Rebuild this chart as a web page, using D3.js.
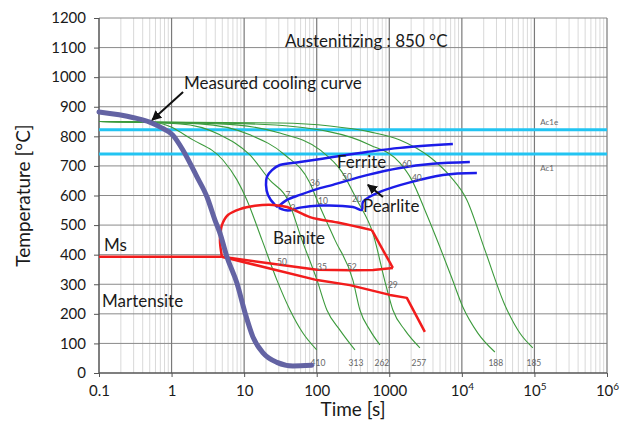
<!DOCTYPE html>
<html>
<head>
<meta charset="utf-8">
<script src="https://cdn.jsdelivr.net/npm/d3@7"></script>
<style>
    body { margin: 0; background: #fff; }
    text { font-family: Lato, "Open Sans", sans-serif; fill: #1a1a1a; }
</style>
</head>
<body>
<script>
(function() {

    // time [s], temperature [°C]
    var coolingCurve = [[0.1, 882], [0.3, 863], [0.5, 848], [0.69, 832], [1.04, 804], [1.43, 754], [2.24, 663], [3.08, 595], [3.96, 517], [4.64, 473], [5.8, 392], [7.95, 304], [10.3, 203], [13.2, 122], [18.2, 68], [28.3, 36], [47, 24], [85, 26]];

    var curve410 = [[0.1, 850], [0.63, 845], [1.97, 788], [5.1, 720], [8.0, 652], [10.9, 585], [17.6, 450], [28.3, 314], [42.8, 213], [64.5, 135], [100, 78]];
    var curve313 = [[0.1, 850], [1.31, 842], [4.64, 805], [12.0, 737], [22.6, 652], [40.1, 585], [62.5, 450], [101, 314], [138, 213], [209, 145], [336, 78]];
    var curve262 = [[0.1, 850], [2.46, 842], [12.0, 805], [36.5, 737], [80.6, 642], [101, 585], [178, 450], [315, 314], [394, 213], [541, 145], [743, 95]];
    var curve257 = [[0.1, 850], [4.64, 842], [31.1, 811], [111, 754], [222, 680], [358, 585], [594, 473], [898, 297], [1121, 213], [1641, 145], [2642, 85]];
    var curve188 = [[0.1, 850], [12.0, 842], [152, 815], [541, 771], [1400, 710], [2046, 652], [3090, 551], [4977, 426], [7278, 321], [10320, 223], [16600, 135], [28500, 71]];
    var curve185 = [[0.1, 850], [31.1, 845], [152, 835], [541, 815], [1400, 788], [3622, 730], [6839, 666], [11720, 585], [20750, 416], [39100, 230], [62900, 135], [95000, 85]];

    var greenCurves = [curve410, curve313, curve262, curve257, curve188, curve185];
    var hardness = ["410", "313", "262", "257", "188", "185"];
    var hardnessTimes = [104, 347, 791, 2560, 29400, 98200];

    var ferriteStart = [[7516, 774], [1400, 761], [491, 747], [167, 730], [58.7, 713], [31.1, 703], [24.2, 686], [20.6, 663], [20.0, 636], [21.3, 602], [26.6, 568], [29.2, 561]];
    var ferriteEnd = [[29.2, 561], [38.9, 585], [58.7, 602], [111, 625], [167, 636], [491, 669], [1400, 693], [3990, 707], [12882, 713]];
    var pearliteStart = [[30, 558], [40, 549], [58.7, 559], [111, 566], [315, 561], [420, 551], [433, 578], [743, 612], [5470, 669], [16100, 676]];

    var msLine = [[0.1, 393], [4.94, 393]];
    var bainiteStart = [[4.94, 393], [4.64, 450], [4.94, 500], [5.98, 534], [8.75, 554], [14.1, 565], [24.9, 568], [38.9, 561], [80.6, 527], [209, 507], [576, 483]];
    var bainiteNose = [[576, 483], [1121, 355]];
    var bainiteEnd = [[4.94, 393], [20.6, 372], [101, 349], [300, 347], [600, 348], [1121, 355]];
    var bainiteLower = [[4.94, 393], [101, 314], [286, 297], [1019, 264], [1746, 254], [3090, 139]];

    var ac1e = 822, ac1 = 740;

    // percent labels [text, t, T]
    var percentLabels = [["7", 40.1, 602], ["2", 47, 558], ["36", 94.4, 642], ["10", 122, 581], ["50", 261, 664], ["20", 358, 588], ["60", 1746, 708], ["40", 2400, 659], ["50", 33.2, 375], ["35", 118, 358], ["52", 305, 358], ["29", 1121, 297]];

    // region labels [text, t, T] (left, baseline)
    var regionLabels = [["Ferrite", 190, 693], ["Pearlite", 433, 544], ["Bainite", 24.9, 436], ["Ms", 0.117, 412], ["Martensite", 0.11, 223], ["Measured cooling curve", 1.48, 960], ["Austenitizing : 850 °C", 36.5, 1102]];
    var arrows = [[[1.44, 950], [0.54, 855]], [[817, 595], [507, 636]]];

    var xTickValues = [0.1, 1, 10, 100, 1000, 1e4, 1e5, 1e6];
    var xTickLabels = ["0.1", "1", "10", "100", "1000", "10^4", "10^5", "10^6"];
    var yTickValues = d3.range(0, 1201, 100);

    var width = 632,
        height = 436,
        margin = {top: 18, right: 25, bottom: 63, left: 99};

    var svg = d3.select("body")
        .append("svg")
        .attr("width", width)
        .attr("height", height);

    var x = d3.scaleLog()
        .domain([0.1, 1e6])
        .range([margin.left, width - margin.right]);

    var y = d3.scaleLinear()
        .domain([0, 1200])
        .range([height - margin.bottom, margin.top]);

    var x0 = x.range()[0], x1 = x.range()[1],
        y0 = y.range()[0], y1 = y.range()[1];

    // grid
    var minor = x.ticks().filter(function(d) {
        return Math.abs(Math.log10(d) - Math.round(Math.log10(d))) > 1e-6;
    });

    svg.selectAll(".minor")
        .data(minor)
        .enter()
        .append("line")
        .attr("x1", function(d) { return x(d); })
        .attr("x2", function(d) { return x(d); })
        .attr("y1", y0)
        .attr("y2", y1)
        .attr("stroke", "#d9d9d9")
        .attr("stroke-width", 1);

    svg.selectAll(".hgrid")
        .data(yTickValues.slice(1))
        .enter()
        .append("line")
        .attr("x1", x0)
        .attr("x2", x1)
        .attr("y1", function(d) { return y(d); })
        .attr("y2", function(d) { return y(d); })
        .attr("stroke", "#8a8a8a")
        .attr("stroke-width", 1);

    svg.selectAll(".vgrid")
        .data(xTickValues.slice(1))
        .enter()
        .append("line")
        .attr("x1", function(d) { return x(d); })
        .attr("x2", function(d) { return x(d); })
        .attr("y1", y0)
        .attr("y2", y1)
        .attr("stroke", "#7a7a7a")
        .attr("stroke-width", 1.2);

    // axes
    var xAxis = svg.append("g")
        .attr("transform", "translate(0," + y0 + ")")
        .call(d3.axisBottom(x)
            .tickValues(xTickValues)
            .tickSize(4)
            .tickPadding(8)
            .tickFormat(function(d, i) { return xTickLabels[i]; }));

    xAxis.selectAll(".tick text")
        .attr("font-size", "15px")
        .attr("font-family", "Lato")
        .each(function(d, i) {
            var lab = xTickLabels[i];
            if (lab.indexOf("^") > 0) {
                var p = lab.split("^");
                var t = d3.select(this).text(p[0]);
                t.append("tspan")
                    .attr("dy", "-0.55em")
                    .attr("font-size", "10px")
                    .text(p[1]);
            }
        });

    var yAxis = svg.append("g")
        .attr("transform", "translate(" + x0 + ",0)")
        .call(d3.axisLeft(y)
            .tickValues(yTickValues)
            .tickSize(5)
            .tickPadding(8)
            .tickFormat(d3.format("d")));

    yAxis.selectAll(".tick text")
        .attr("font-size", "15px")
        .attr("font-family", "Lato");

    svg.selectAll(".domain").remove();
    svg.selectAll(".tick line").attr("stroke", "#555");

    svg.append("line")
        .attr("x1", x0).attr("x2", x1)
        .attr("y1", y0).attr("y2", y0)
        .attr("stroke", "#555").attr("stroke-width", 1.5);

    svg.append("line")
        .attr("x1", x0).attr("x2", x0)
        .attr("y1", y0).attr("y2", y1)
        .attr("stroke", "#555").attr("stroke-width", 1.5);

    // axis titles
    svg.append("text")
        .attr("x", (x0 + x1) / 2)
        .attr("y", 416)
        .attr("text-anchor", "middle")
        .attr("font-size", "19px")
        .text("Time [s]");

    svg.append("text")
        .attr("transform", "translate(30," + ((y0 + y1) / 2) + ") rotate(-90)")
        .attr("text-anchor", "middle")
        .attr("font-size", "19px")
        .text("Temperature [°C]");

    // Ac lines
    svg.selectAll(".ac")
        .data([ac1e, ac1])
        .enter()
        .append("line")
        .attr("x1", x0)
        .attr("x2", x1)
        .attr("y1", function(d) { return y(d); })
        .attr("y2", function(d) { return y(d); })
        .attr("stroke", "#22c4f2")
        .attr("stroke-width", 3);

    svg.append("text")
        .attr("x", x(1.2e5)).attr("y", y(ac1e) - 5)
        .attr("font-size", "8px").style("fill", "#666")
        .text("Ac1e");

    svg.append("text")
        .attr("x", x(1.2e5)).attr("y", y(ac1) + 17)
        .attr("font-size", "8px").style("fill", "#666")
        .text("Ac1");

    var smooth = d3.line()
        .x(function(d) { return x(d[0]); })
        .y(function(d) { return y(d[1]); })
        .curve(d3.curveMonotoneX);

    var round = d3.line()
        .x(function(d) { return x(d[0]); })
        .y(function(d) { return y(d[1]); })
        .curve(d3.curveCatmullRom.alpha(0.5));

    var straight = d3.line()
        .x(function(d) { return x(d[0]); })
        .y(function(d) { return y(d[1]); });

    // cooling curves
    svg.selectAll(".cool")
        .data(greenCurves)
        .enter()
        .append("path")
        .attr("d", smooth)
        .attr("fill", "none")
        .attr("stroke", "#3c9a3c")
        .attr("stroke-width", 1.1);

    svg.selectAll(".hv")
        .data(hardness)
        .enter()
        .append("text")
        .attr("x", function(d, i) { return x(hardnessTimes[i]); })
        .attr("y", y(34))
        .attr("dy", "0.35em")
        .attr("text-anchor", "middle")
        .attr("font-size", "8.5px")
        .style("fill", "#666")
        .text(function(d) { return d; });

    // transformation lines
    svg.selectAll(".blue")
        .data([ferriteStart, ferriteEnd, pearliteStart])
        .enter()
        .append("path")
        .attr("d", round)
        .attr("fill", "none")
        .attr("stroke", "#1c1ce8")
        .attr("stroke-width", 2.5)
        .attr("stroke-linejoin", "round");

    svg.selectAll(".red")
        .data([msLine, bainiteNose, bainiteEnd, bainiteLower])
        .enter()
        .append("path")
        .attr("d", straight)
        .attr("fill", "none")
        .attr("stroke", "#f21c1c")
        .attr("stroke-width", 2.5)
        .attr("stroke-linejoin", "round");

    svg.append("path")
        .datum(bainiteStart)
        .attr("d", round)
        .attr("fill", "none")
        .attr("stroke", "#f21c1c")
        .attr("stroke-width", 2.5)
        .attr("stroke-linejoin", "round");

    svg.selectAll(".pct")
        .data(percentLabels)
        .enter()
        .append("text")
        .attr("x", function(d) { return x(d[1]); })
        .attr("y", function(d) { return y(d[2]); })
        .attr("dy", "0.35em")
        .attr("text-anchor", "middle")
        .attr("font-size", "8.5px")
        .style("fill", "#666")
        .text(function(d) { return d[0]; });

    // measured curve
    svg.append("path")
        .datum(coolingCurve)
        .attr("d", smooth)
        .attr("fill", "none")
        .attr("stroke", "#6363a3")
        .attr("stroke-width", 5)
        .attr("stroke-linecap", "round");

    // labels and arrows
    svg.append("defs")
        .append("marker")
        .attr("id", "head")
        .attr("viewBox", "0 0 10 10")
        .attr("refX", 9)
        .attr("refY", 5)
        .attr("markerWidth", 5)
        .attr("markerHeight", 5)
        .attr("orient", "auto")
        .append("path")
        .attr("d", "M0,0L10,5L0,10z")
        .attr("fill", "#111");

    svg.selectAll(".arrow")
        .data(arrows)
        .enter()
        .append("line")
        .attr("x1", function(d) { return x(d[0][0]); })
        .attr("y1", function(d) { return y(d[0][1]); })
        .attr("x2", function(d) { return x(d[1][0]); })
        .attr("y2", function(d) { return y(d[1][1]); })
        .attr("stroke", "#111")
        .attr("stroke-width", 2)
        .attr("marker-end", "url(#head)");

    svg.selectAll(".region")
        .data(regionLabels)
        .enter()
        .append("text")
        .attr("x", function(d) { return x(d[1]); })
        .attr("y", function(d) { return y(d[2]); })
        .attr("font-size", "17px")
        .text(function(d) { return d[0]; });

})();
</script>
</body>
</html>
